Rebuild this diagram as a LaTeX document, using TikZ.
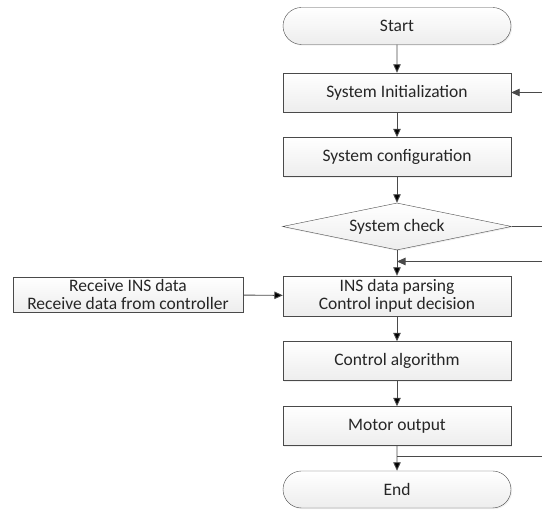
\documentclass[tikz,border=0pt]{standalone}
\usepackage{fontspec}
\setmainfont{Carlito}
\usetikzlibrary{shapes.geometric,shapes.misc,arrows.meta,shadows}
\definecolor{edgegray}{HTML}{4A4A4A}
\definecolor{textgray}{HTML}{262626}
\begin{document}
\begin{tikzpicture}[x=1pt,y=1pt]

      \tikzset{box/.style={draw=edgegray, rectangle, inner sep=0pt, minimum width=228pt, minimum height=39pt,
                top color=white, bottom color=gray!14, drop shadow={opacity=0.12, shadow xshift=1.2pt, shadow yshift=-1.2pt},
                text=textgray, font=\fontsize{17.5}{17.5}\selectfont, align=center},
               terminal/.style={box, rounded rectangle, minimum height=37pt},
               decision/.style={box, diamond, aspect=4.9, minimum width=229pt, minimum height=47pt},
               flow/.style={draw=edgegray, line width=0.9pt, -{Triangle[length=8.5pt,width=7.5pt]}},
               plain/.style={draw=edgegray, line width=0.9pt}}
      \useasboundingbox (0,0) rectangle (542,510);
%% Nodes
      	\node[terminal] (start) at (397,484) {Start};
      	\node[box] (init) at (397,417.5) {System Initialization};
      	\node[box] (config) at (397,353) {System configuration};
      	\node[decision] (check) at (397,283.5) {System check};
      	\node[box, minimum height=40pt] (parse) at (397,214) {INS data parsing\\Control input decision};
      	\node[box, minimum width=230pt, minimum height=35pt] (receive) at (128,215.5) {Receive INS data\\Receive data from controller};
      	\node[box] (algo) at (397,149) {Control algorithm};
      	\node[box] (motor) at (397,84) {Motor output};
      	\node[terminal] (end) at (397,20.5) {End};
%% Loop ends at the right border
      	\coordinate (r1) at (542,417.5);
      	\coordinate (r2) at (542,283.5);
      	\coordinate (r3) at (542,248.5);
      	\coordinate (j3) at (397,248.5);
      	\coordinate (r4) at (542,54);
      	\coordinate (j4) at (397,54);
%Edges
		\path[flow] (start) edge (init);
		\path[flow] (init) edge (config);
		\path[flow] (config) edge (check);
		\path[flow] (check) edge (parse);
		\path[flow] (receive) edge (parse);
		\path[flow] (parse) edge (algo);
		\path[flow] (algo) edge (motor);
		\path[flow] (motor) edge (end);
		\draw[flow] (r1) -- (init.east);
		\draw[plain] (check.east) -- (r2);
		\draw[flow] (r3) -- (j3);
		\draw[plain] (j4) -- (r4);

	\end{tikzpicture}
\end{document}
